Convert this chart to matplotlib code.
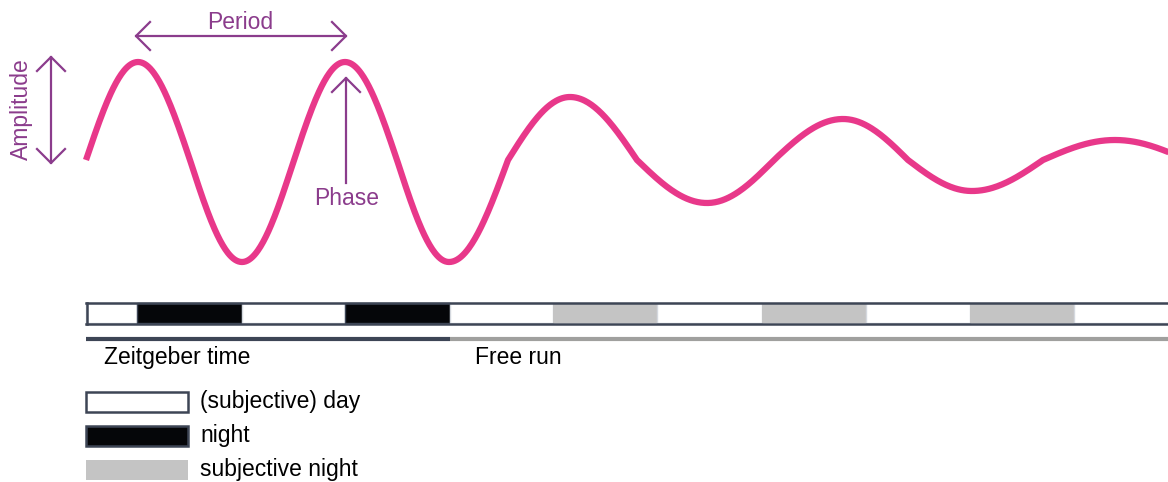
import numpy as np
import matplotlib.pyplot as plt
from matplotlib.patches import Rectangle

# rhythm key points (chart units, y grows downward): crossings of the midline and peaks/troughs
mid = 160
wave_x = [86, 138, 190, 242, 294, 345, 397, 449, 508, 570, 637, 707, 774, 843, 908, 972, 1043, 1115, 1187]
wave_y = [160, 62, 160, 262, 160, 62, 160, 262, 160, 97, 160, 203, 160, 119, 160, 191, 160, 140, 160]

# light regime bar
block_edges = [86, 137, 242, 345, 450, 553, 657, 762, 866, 970, 1074, 1180]
block_kind = ["day", "night", "day", "night", "day", "subj", "day", "subj", "day", "subj", "day"]
zt_end = 450

legend_kinds = ["day", "night", "subj"]
legend_labels = ["(subjective) day", "night", "subjective night"]

pink = "#e8388a"
purple = "#8b3c8c"
edge = "#3d4555"
fills = {"day": "white", "night": "#050609", "subj": "#c4c4c4"}
block_edge = {"day": "#d4d8de", "night": edge, "subj": "none"}
font = "Liberation Sans"
fs = 16.5

fig = plt.figure(figsize=(11.68, 4.82), dpi=100)
ax = fig.add_axes([0, 0, 1, 1])
ax.set_xlim(0, 1168)
ax.set_ylim(482, 0)
ax.axis("off")

# build the curve from quarter-sine pieces between key points
xs, ys = [], []
for i in range(len(wave_x) - 1):
    x0, x1 = wave_x[i], wave_x[i + 1]
    y0, y1 = wave_y[i], wave_y[i + 1]
    t = np.linspace(0, 1, 60)
    if y0 == mid:
        y = mid + (y1 - mid) * np.sin(np.pi / 2 * t)
    else:
        y = mid + (y0 - mid) * np.cos(np.pi / 2 * t)
    xs.extend(x0 + (x1 - x0) * t)
    ys.extend(y)
ax.plot(xs, ys, color=pink, lw=4.5, solid_capstyle="butt", zorder=3)

# annotations
def chevron(x, y, dx, dy):
    # open arrow head pointing along (dx, dy)
    if dx != 0:
        ax.plot([x - dx * 14, x, x - dx * 14], [y - 14, y, y + 14], color=purple, lw=1.6)
    else:
        ax.plot([x - 14, x, x + 14], [y - dy * 14, y, y - dy * 14], color=purple, lw=1.6)

ax.plot([136, 346], [36, 36], color=purple, lw=1.6)
chevron(136, 36, -1, 0)
chevron(346, 36, 1, 0)
ax.text(240, 29, "Period", color=purple, fontsize=fs, family=font, ha="center", va="baseline")

ax.plot([51, 51], [57, 163], color=purple, lw=1.6)
chevron(51, 57, 0, -1)
chevron(51, 163, 0, 1)
ax.text(28, 109, "Amplitude", color=purple, fontsize=fs, family=font, rotation=90,
        rotation_mode="anchor", ha="center", va="baseline")

ax.plot([346, 346], [78, 183], color=purple, lw=1.6)
chevron(346, 78, 0, -1)
ax.text(347, 205, "Phase", color=purple, fontsize=fs, family=font, ha="center", va="baseline")

# light regime bar
for i, kind in enumerate(block_kind):
    x0, x1 = block_edges[i], block_edges[i + 1]
    ax.add_patch(Rectangle((x0, 303), x1 - x0, 20, facecolor=fills[kind],
                           edgecolor=block_edge[kind], lw=1.0))
ax.plot([86, 1180], [303, 303], color=edge, lw=1.8)
ax.plot([86, 1180], [323.5, 323.5], color=edge, lw=1.8)
ax.plot([86.5, 86.5], [303, 323.5], color=edge, lw=1.8)

ax.plot([86, zt_end], [339, 339], color=edge, lw=3, solid_capstyle="butt")
ax.plot([zt_end, 1180], [339, 339], color="#a0a09e", lw=3, solid_capstyle="butt")
ax.text(104, 364, "Zeitgeber time", fontsize=fs, family=font, va="baseline")
ax.text(475, 364, "Free run", fontsize=fs, family=font, va="baseline")

# legend
for i, (kind, label) in enumerate(zip(legend_kinds, legend_labels)):
    top = 392 + i * 34
    ax.add_patch(Rectangle((86, top), 102, 20, facecolor=fills[kind],
                           edgecolor=edge if kind != "subj" else "none", lw=1.8))
    ax.text(200, top + 16, label, fontsize=fs, family=font, va="baseline")

fig.savefig("out.png", dpi=100)
